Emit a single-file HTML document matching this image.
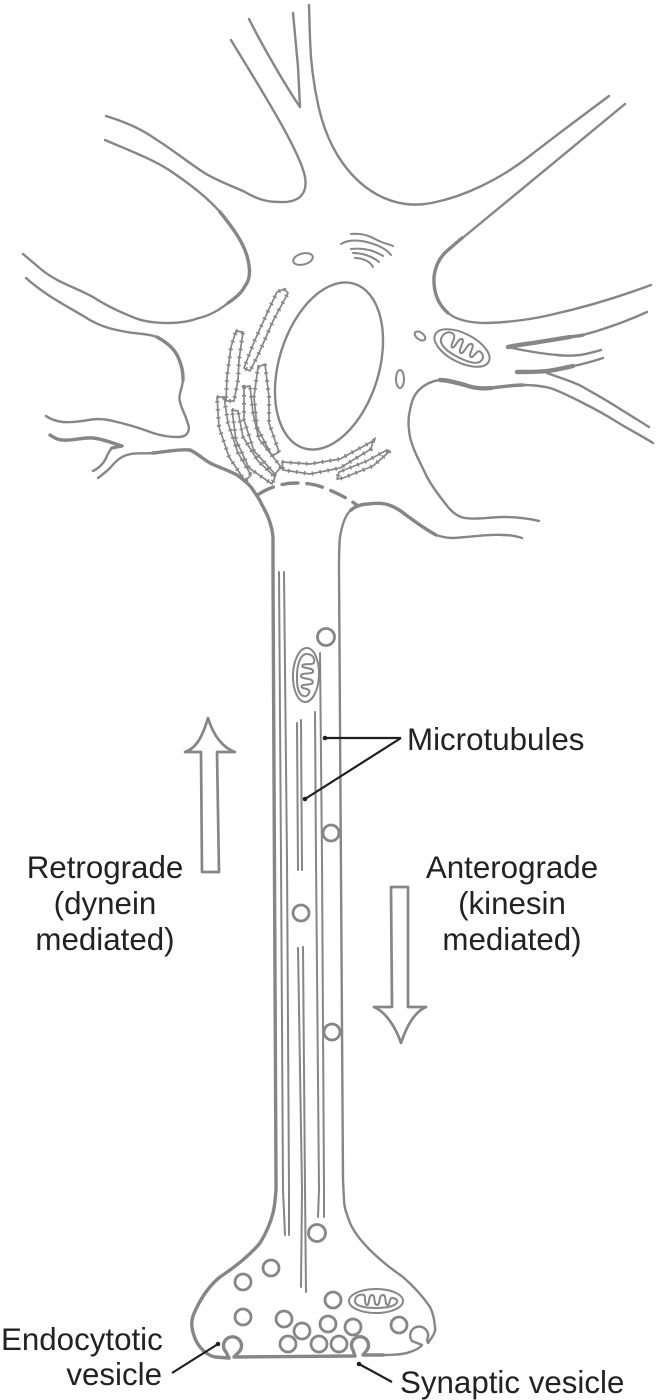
<!DOCTYPE html>
<html><head><meta charset="utf-8"><title>Neuron axonal transport</title>
<style>
html,body{margin:0;padding:0;background:#fff}
svg{display:block}
text{font-family:"Liberation Sans",sans-serif;font-size:31.3px;fill:#222}
.o{fill:none;stroke:#868686;stroke-width:2.4;stroke-linecap:round;stroke-linejoin:round}
.t{stroke-width:3.4}
.x{stroke-width:4.4}
.m{stroke-width:2}
.v{fill:#fff;stroke:#868686;stroke-width:2.8}
.p{fill:none;stroke:#1f1f1f;stroke-width:2.2}
.er{fill:none;stroke:#868686;stroke-width:1.7;stroke-linejoin:round}
.bu{fill:none;stroke:#868686;stroke-width:4.2;stroke-dasharray:1.5 6.5}
</style></head><body>
<svg width="660" height="1400" viewBox="0 0 660 1400" xmlns="http://www.w3.org/2000/svg">
<rect width="660" height="1400" fill="#fff"/>

<!-- soma outline -->
<path class="o" d="M309 5 L310 39 Q311 73 318.500 106.500 Q326 140 343 163.500 Q360 187 383 197.500 Q406 208 431.500 203 Q457 198 482.500 185.500 Q508 173 529 156.500 Q550 140 609 96"/>
<path class="o" d="M625 104 L448 250"/>
<path class="o t" d="M462 238 L448 250 Q436 260 434 277 Q433 300 448 313"/>
<path class="o" d="M448 313 Q460 323 487 323 Q520 322 550 315 Q600 304 651 285"/>
<path class="o" d="M249 19 C262 45 285 85 300 107 L298 67 L293 13"/>
<path class="o" d="M231 40 C255 80 300 150 305 177 C308 195 298 203 279 202 C265 202 255 198 245 192 C230 185 215 180 203 172 C185 160 170 148 157 140 C140 128 125 122 106 116"/>
<path class="o" d="M105 140 C128 150 150 158 169 170 C190 184 207 197 220 212"/>
<path class="o t" d="M220 212 C233 228 243 242 247 256 C251 270 250 280 245 286 C241 294 235 298 228 303"/>
<path class="o" d="M228 303 C218 311 208 316 199 318 C188 322 178 323 169 323 C158 323 145 322 135 318 C120 312 105 305 93 297 C75 287 58 283 42 270 L23 254"/>
<path class="o" d="M26 278 C45 295 65 305 85 317 C100 327 115 330 127 332 C140 334 150 334 157 337"/>
<path class="o t" d="M157 337 C168 343 175 350 178 357 C183 368 183 375 183 380"/>
<path class="o" d="M183 380 C182 390 178 395 180 402 C182 410 184 412 186 418 C188 424 190 428 188 432 C186 436 183 437 177 437 C170 437 162 436 153 433 C142 429 130 425 117 422 C110 420 105 419 97 419 C85 420 75 423 63 422 C55 421 50 419 46 416"/>
<path class="o t" d="M50 435 C55 438 58 440 63 440 C73 441 84 437 93 438 C103 439 112 443 122 446 L112 448"/>
<path class="o" d="M112 448 C107 453 107 458 103 463 C100 467 97 469 93 471"/>
<path class="o" d="M98 478 C103 474 106 472 110 468 C115 462 120 457 127 455 C135 452 145 454 153 453"/>
<path class="o t" d="M153 453 C165 452 178 449 190 450 C197 453 203 459 210 463 C220 468 228 470 237 475 C245 481 250 485 253 490 C258 497 260 500 262 505 C268 515 272 525 273 537 L273 570 L276 1180 L276 1190 C275 1200 275 1205 273 1213 C270 1225 265 1235 260 1243 C250 1255 235 1267 220 1277 C210 1285 203 1295 197 1307 C193 1315 191 1320 192 1327 C193 1335 196 1342 200 1347 C205 1353 210 1356 215 1357 L229 1358"/>
<path class="o t" d="M229 1358 L226 1352 A9 9 0 1 1 239 1352 L234 1357 L355 1356 L353 1350 A8.500 8.500 0 1 1 367 1350 L363 1355 L383 1355"/>
<path class="o" d="M383 1355 C395 1355 405 1354 410 1352 C416 1350 420 1348 422 1345 L412 1341 A9 9 0 1 1 427 1340 L428 1343 C433 1336 436 1332 435 1327 C434 1318 433 1313 430 1307 C422 1295 412 1285 403 1277 C390 1268 380 1260 370 1250 C360 1240 354 1232 350 1223 C346 1212 344 1207 344 1200 L343 1180 L339 570 C339 555 339 545 340 537 C342 525 345 515 351 510"/>
<path class="o t" d="M351 510 C356 506 362 504 368 504 C378 503 383 503 389 505 C397 508 401 511 406 515 C418 524 427 530 436 535"/>
<path class="o" d="M436 535 C442 537 447 538 453 538 C470 537 490 534 503 535 C510 535 516 536 522 538"/>
<path class="o" d="M539 521 C527 518 515 517 503 517 C490 517 478 520 465 518 C458 517 453 513 448 507 C440 497 433 488 427 477 C420 462 413 450 410 437 C408 425 408 418 410 410 C412 400 414 395 419 390 C425 384 432 381 440 380"/>
<path class="o x" d="M440 380 C448 380 457 383 465 385 C473 388 482 389 491 388"/>
<path class="o t" d="M491 388 C502 387 512 385 523 385"/>
<path class="o" d="M523 385 C533 385 542 386 550 388 C562 392 573 398 583 403 C595 409 606 415 617 422 C630 430 642 436 653 443"/>
<path class="o" d="M547 373 C560 378 572 381 583 387 C595 394 606 400 617 407 C628 414 638 420 649 427"/>
<path class="o x" d="M517 372 C528 372 538 372 547 371 C556 370 564 368 573 366"/>
<path class="o" d="M573 366 C584 364 594 361 603 358"/>
<path class="o" d="M601 350 C594 352 587 354 580 355 C572 356 565 356 557 355 C545 354 533 352 522 350 L508 347"/>
<path class="o x" d="M508 347 C518 345 526 344 533 343 C545 341 558 339 570 337"/>
<path class="o t" d="M570 337 C575 336 580 336 583 335"/>
<path class="o" d="M583 335 C605 329 627 321 647 312"/>
<path class="o t" stroke-dasharray="16 9" d="M259 494 C270 487 283 483 296 483 C305 483 314 484 322 487 C335 492 348 498 358 506"/>

<!-- nucleus -->
<ellipse class="o" cx="329" cy="366" rx="50" ry="86" transform="rotate(17 329 366)"/>

<!-- golgi -->
<path class="o m" d="M351 234 C360 233 368 235 375 239 C382 243 388 244 393 246"/>
<path class="o m" d="M341 244 C347 240 355 240 362 241 C372 243 385 247 391 255"/>
<path class="o m" d="M351 249 C360 248 372 249 383 256"/>
<path class="o m" d="M353 253 C362 253 372 256 379 262"/>
<path class="o m" d="M355 258 C362 258 370 261 373 267"/>

<!-- small organelles -->
<ellipse class="o m" cx="303" cy="259" rx="10" ry="5.500" transform="rotate(-15 303 259)"/>
<ellipse class="o m" cx="420" cy="336" rx="6" ry="3.500" transform="rotate(35 420 336)"/>
<ellipse class="o m" cx="400" cy="379" rx="4" ry="9"/>

<!-- rough ER -->
<g>
<polygon class="er" points="284,289 288,293 273,321 259,353 250,371 244,368 254,342 269,309 277,292"/>
<polygon class="bu" points="284,289 288,293 273,321 259,353 250,371 244,368 254,342 269,309 277,292"/>
<polygon class="er" points="236,331 243,332 239,360 238,380 234,401 226,401 227,377 231,347"/>
<polygon class="bu" points="236,331 243,332 239,360 238,380 234,401 226,401 227,377 231,347"/>
<polygon class="er" points="258,367 265,364 269,397 269,423 279,452 272,456 257,427 254,397"/>
<polygon class="bu" points="258,367 265,364 269,397 269,423 279,452 272,456 257,427 254,397"/>
<polygon class="er" points="244,387 250,386 253,413 259,439 281,467 275,474 254,451 244,420"/>
<polygon class="bu" points="244,387 250,386 253,413 259,439 281,467 275,474 254,451 244,420"/>
<polygon class="er" points="232,410 238,411 243,437 258,461 275,477 272,484 249,468 236,440"/>
<polygon class="bu" points="232,410 238,411 243,437 258,461 275,477 272,484 249,468 236,440"/>
<polygon class="er" points="217,397 224,397 228,423 238,453 251,475 245,481 229,457 219,427"/>
<polygon class="bu" points="217,397 224,397 228,423 238,453 251,475 245,481 229,457 219,427"/>
<polygon class="er" points="282,462 310,464 340,459 373,441 371,449 340,468 310,474 283,470"/>
<polygon class="bu" points="282,462 310,464 340,459 373,441 371,449 340,468 310,474 283,470"/>
<polygon class="er" points="390,451 373,466 343,478 337,479 339,472 367,461 385,451"/>
<polygon class="bu" points="390,451 373,466 343,478 337,479 339,472 367,461 385,451"/>
</g>

<!-- mitochondria -->
<g transform="translate(462 348) rotate(27)">
<ellipse class="o m" rx="30" ry="14.500"/>
<path class="o m" d="M-23 0 C-23 -8 -16 -10 -13 -8 C-10 -6 -12 4 -9 4 C-6 4 -8 -8 -4 -8 C0 -8 -3 5 1 5 C5 5 2 -8 7 -8 C11 -8 8 4 12 4 C15 4 14 -6 18 -5 C22 -4 24 -1 23 2 C22 8 12 10 0 10 C-12 10 -23 7 -23 0Z"/>
</g>
<g transform="translate(306 675) rotate(92)">
<ellipse class="o m" rx="27" ry="13"/>
<path class="o m" d="M-21 0 C-21 -7 -15 -9 -12 -7 C-10 -5 -12 4 -9 4 C-6 4 -8 -7 -4 -7 C0 -7 -3 5 1 5 C5 5 2 -7 7 -7 C11 -7 8 4 12 4 C14 4 13 -5 17 -4 C20 -3 22 -1 21 2 C20 7 11 9 0 9 C-11 9 -21 6 -21 0Z"/>
</g>
<g transform="translate(376 1301)">
<ellipse class="o m" rx="27" ry="12"/>
<path class="o m" d="M-21 0 C-21 -6 -15 -7 -12 -6 C-10 -5 -12 4 -9 4 C-6 4 -8 -6 -4 -6 C0 -6 -3 4 1 4 C5 4 2 -6 7 -6 C11 -6 8 4 12 4 C14 4 13 -4 17 -3 C20 -2 22 -1 21 1 C20 5 11 7 0 7 C-11 7 -21 5 -21 0Z"/>
</g>

<!-- microtubules -->
<g class="o" style="stroke-width:2">
<path d="M279 572 L281 860 L283 1190 L285 1235"/>
<path d="M284 572 L287 860 L289 1190 L289 1235"/>
<path d="M297 723 L298 870"/>
<path d="M301 720 L302 870"/>
<path d="M298 948 L302 1190 L301 1287"/>
<path d="M303 947 L305 1190 L306 1292"/>
<path d="M315 712 L316 860 L319 1190 L318 1217"/>
<path d="M320 653 L322 860 L324 1190 L324 1217"/>
</g>

<!-- vesicles -->
<g class="v">
<circle cx="326" cy="637" r="8.500"/>
<circle cx="331" cy="833" r="8"/>
<circle cx="301" cy="913" r="8"/>
<circle cx="332" cy="1032" r="8"/>
<circle cx="317" cy="1233" r="8.500"/>
<circle cx="271" cy="1268" r="8"/>
<circle cx="243" cy="1282" r="8"/>
<circle cx="243" cy="1317" r="8"/>
<circle cx="333" cy="1300" r="8"/>
<circle cx="284" cy="1319" r="8"/>
<circle cx="302" cy="1331" r="8"/>
<circle cx="328" cy="1324" r="8"/>
<circle cx="353" cy="1327" r="8"/>
<circle cx="399" cy="1325" r="8"/>
<circle cx="288" cy="1344" r="8"/>
<circle cx="319" cy="1344" r="8"/>
<circle cx="339" cy="1344" r="8"/>
</g>

<!-- transport arrows -->
<path class="o" style="stroke-width:2.7" d="M202 872 L201 752 L185 752 C197 748 203 735 208 718 C213 735 223 748 235 752 L217 752 L219 872 Z"/>
<path class="o" style="stroke-width:2.7" d="M391 887 L408 887 L408 1007 L426 1007 C414 1012 406 1028 401 1043 C396 1028 386 1012 374 1007 L392 1007 Z"/>

<!-- leaders -->
<path class="p" d="M325 738 L401 738"/>
<path class="p" d="M305 799 L401 738"/>
<path class="p" d="M218 1344 L172 1373"/>
<path class="p" d="M359 1364 L392 1382"/>
<circle cx="325" cy="738" r="2.300" fill="#1f1f1f"/>
<circle cx="305" cy="799" r="2.300" fill="#1f1f1f"/>
<circle cx="218" cy="1344" r="2.300" fill="#1f1f1f"/>
<circle cx="359" cy="1364" r="2.300" fill="#1f1f1f"/>

<!-- labels -->
<text x="407" y="750">Microtubules</text>
<text x="105" y="878" text-anchor="middle">Retrograde</text>
<text x="105" y="914" text-anchor="middle">(dynein</text>
<text x="105" y="950" text-anchor="middle">mediated)</text>
<text x="512" y="878" text-anchor="middle">Anterograde</text>
<text x="512" y="914" text-anchor="middle">(kinesin</text>
<text x="512" y="950" text-anchor="middle">mediated)</text>
<text x="1" y="1350">Endocytotic</text>
<text x="162" y="1385" text-anchor="end">vesicle</text>
<text x="400" y="1393">Synaptic vesicle</text>
</svg>
</body></html>
